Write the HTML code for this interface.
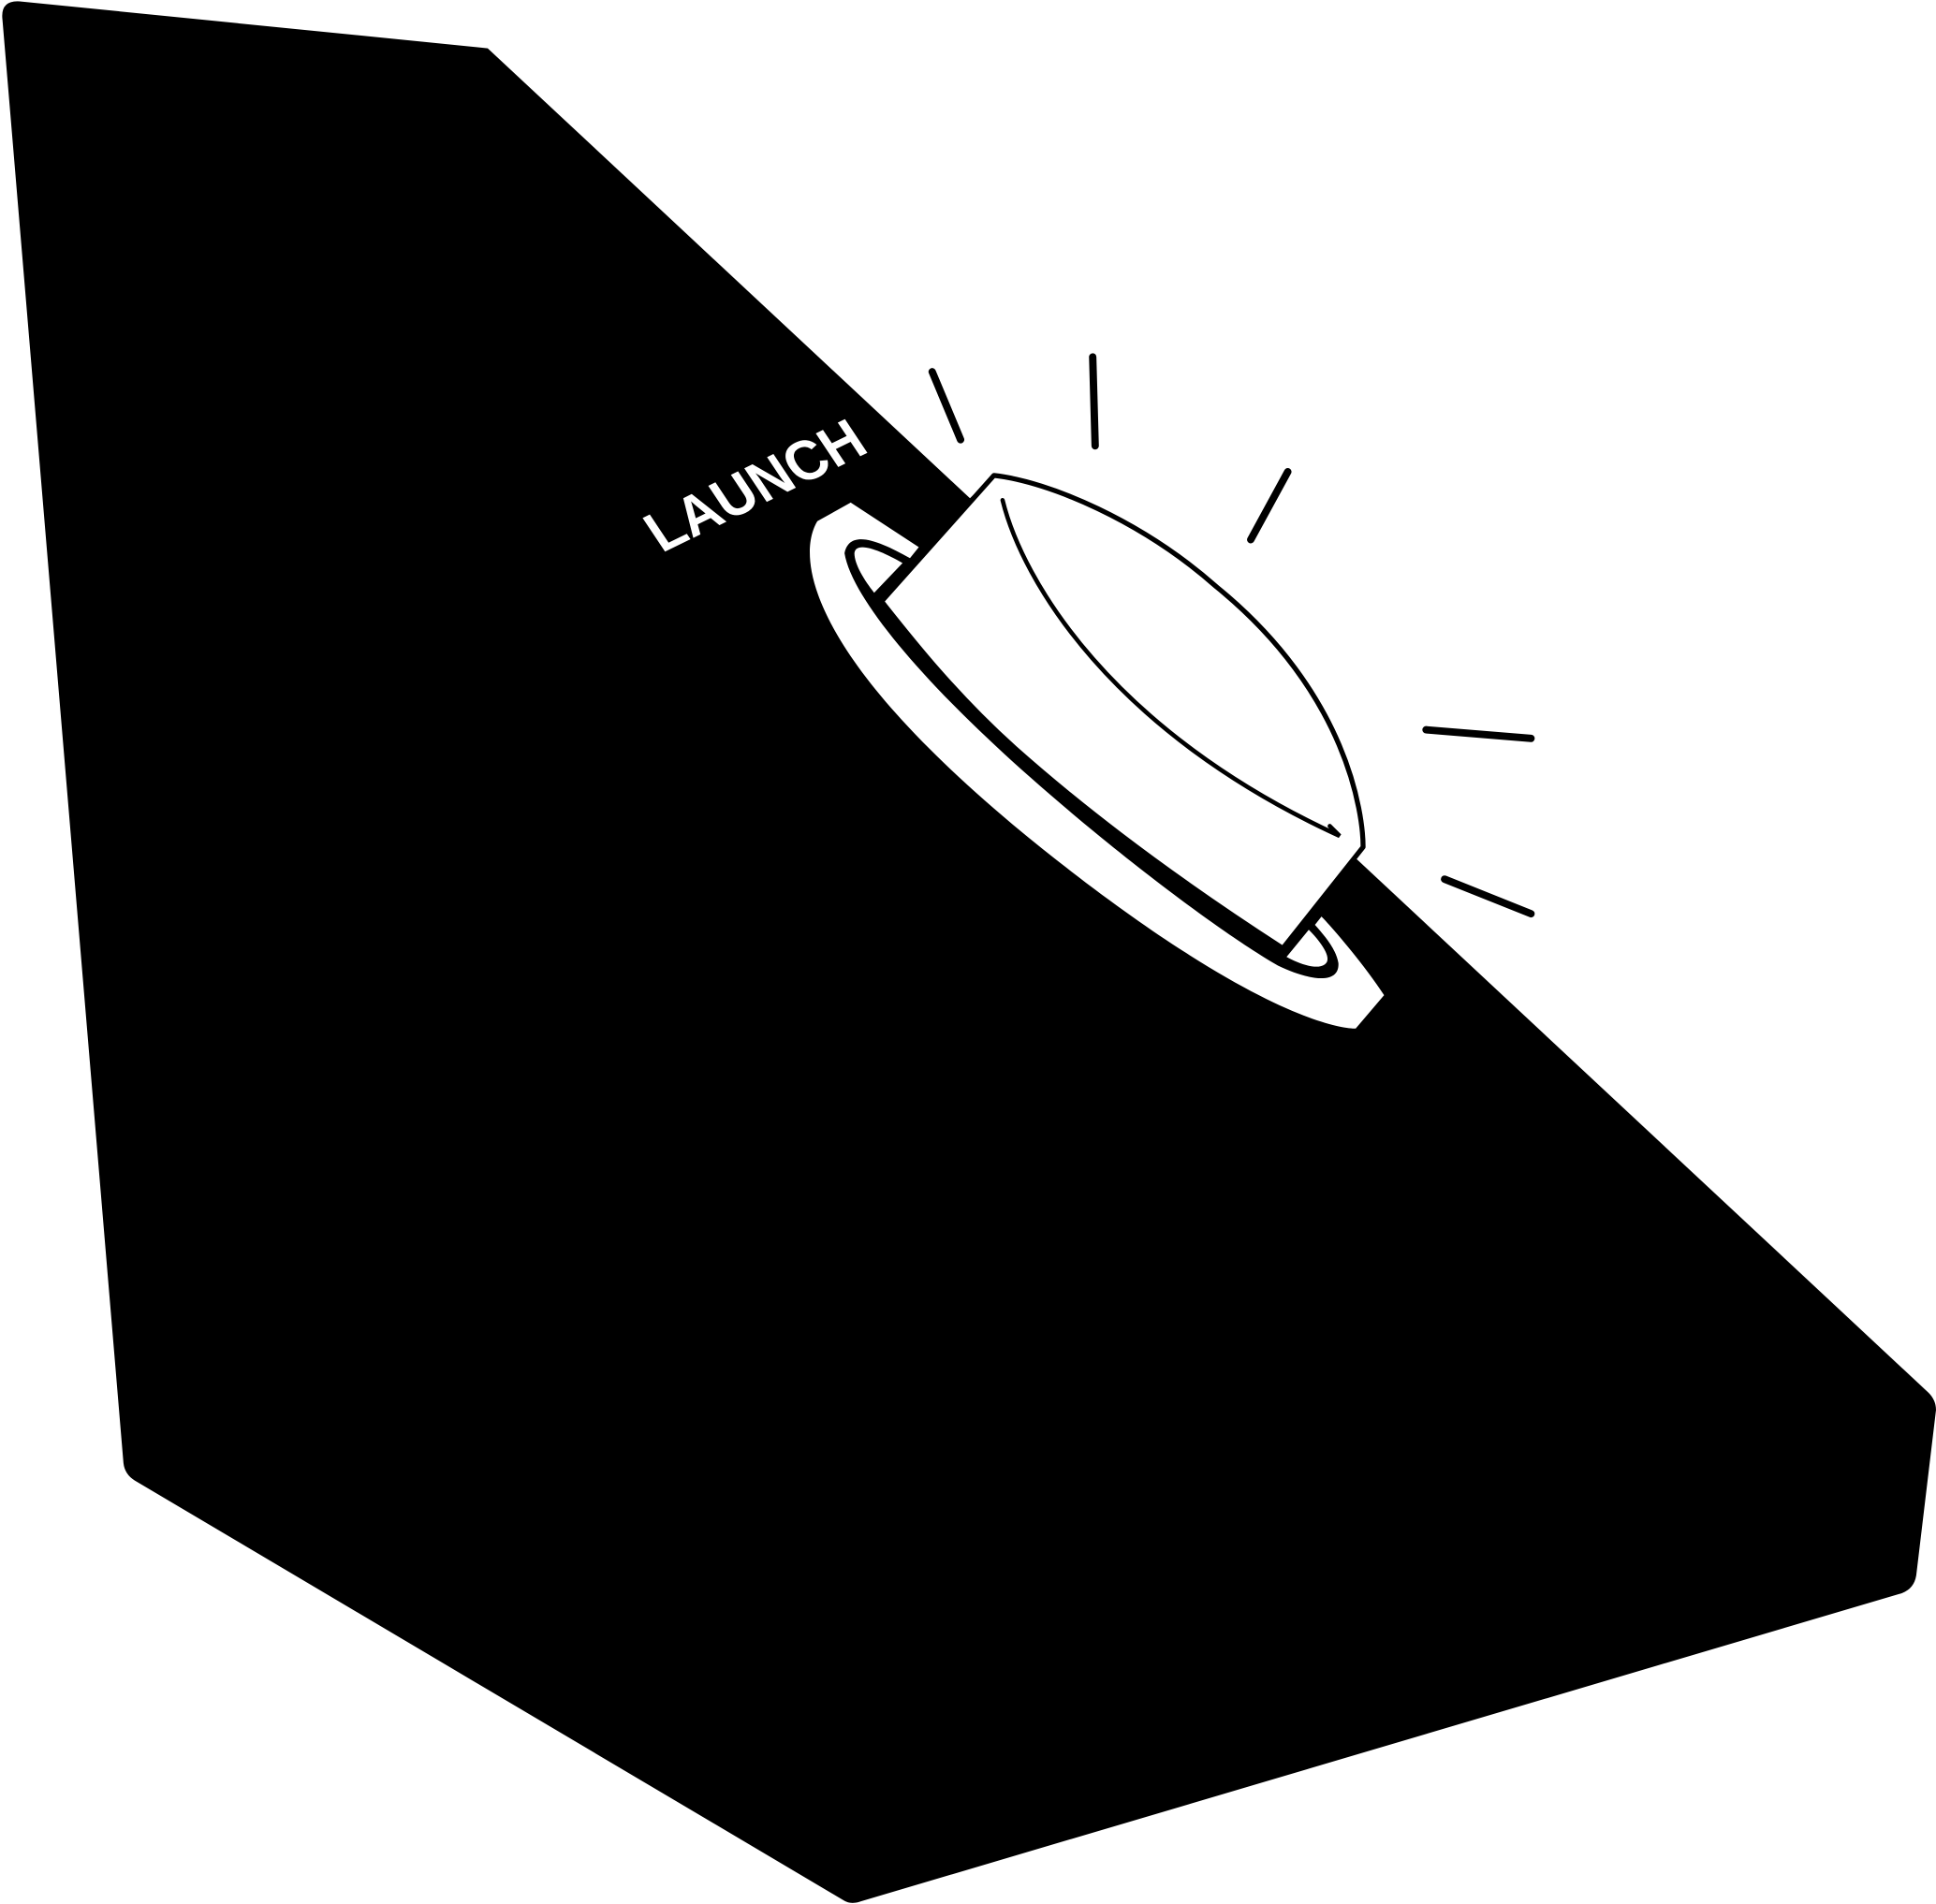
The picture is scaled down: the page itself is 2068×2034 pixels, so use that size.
<!DOCTYPE html>
<html><head><meta charset="utf-8"><style>html,body{margin:0;padding:0;background:#fff}svg{display:block}</style></head>
<body>
<svg width="2068" height="2034" viewBox="0 0 1568 1542" xmlns="http://www.w3.org/2000/svg">
<path d="M2,16 Q0,0 16,1 L395,39 L1562,1128 Q1568,1134 1568,1142 L1552,1276 Q1550,1288 1538,1291 L697,1540 Q689,1543 683,1539 L109,1199 Q101,1194 100,1185 Z" fill="#000"/>
<path d="M689,407 L662,422 C648,445 640,525 850,692 C1012,820 1082,833 1098,833 L1121,806 C1104,780 1078,750 1069,741 L1040,740 L744,443 Z" fill="#fff"/>
<path d="M745,442 L737,452 C712,438 688,428 684,448 C690,485 750,555 835,630 C920,705 1000,762 1035,782 C1060,794 1085,798 1084,780 C1082,768 1072,757 1065,749 L1080,730 L1040,740 L805,385 Z" fill="#000"/>
<path d="M708,480 L731,456 C712,445 693,438 692,448 C692,457 700,470 708,480 Z" fill="#fff"/>
<path d="M1042,775 L1060,753 C1072,765 1079,777 1073,781 C1066,786 1051,780 1042,775 Z" fill="#fff"/>
<path d="M714,487 L805,385 C850,390 925,422 985,475 C1092,562 1104,660 1104,686 L1039,768 C960,717 885,662 822,606 C772,561 737,516 714,487 Z" fill="#fff" stroke="#000" stroke-width="4" stroke-linejoin="round"/>
<path d="M812,405 C828,470 900,592 1085,677 L1077,669" fill="none" stroke="#000" stroke-width="3.5" stroke-linecap="round"/>
<text transform="matrix(0.9,-0.44,0.6,0.9,536,448)" font-family="Liberation Sans, sans-serif" font-weight="bold" font-size="44" fill="#fff" textLength="188" lengthAdjust="spacingAndGlyphs">LAUNCH</text>
<g stroke="#000" stroke-width="6" stroke-linecap="round">
<line x1="755" y1="301" x2="778" y2="356"/>
<line x1="885" y1="289" x2="887" y2="361"/>
<line x1="1043" y1="382" x2="1013" y2="437"/>
<line x1="1155" y1="591" x2="1240" y2="598"/>
<line x1="1170" y1="712" x2="1240" y2="740"/>
</g>
</svg>
</body></html>
